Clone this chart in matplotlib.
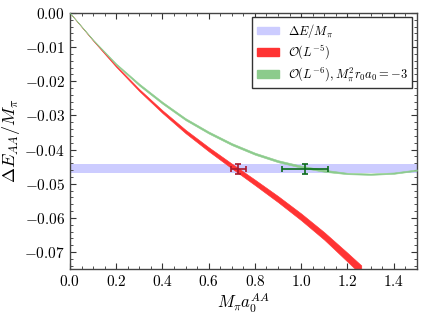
import numpy as np
import matplotlib
matplotlib.use("Agg")
import matplotlib.pyplot as plt
from matplotlib.ticker import MultipleLocator, FuncFormatter
from matplotlib.patches import Patch

plt.rcParams['mathtext.fontset'] = 'cm'
plt.rcParams['font.family'] = ['DejaVu Serif']

# Data
red_x = [0.0, 0.1, 0.2, 0.3, 0.4, 0.5, 0.6, 0.7, 0.8, 0.9, 1.0, 1.1, 1.2, 1.26]
red_y = [0.0, -0.0080, -0.0156, -0.0226, -0.0289, -0.0347, -0.0399, -0.0448,
         -0.0496, -0.0545, -0.0597, -0.0653, -0.0715, -0.0753]
red_hw = [0.0, 0.0001, 0.0002, 0.0003, 0.0004, 0.0005, 0.0006, 0.0007,
          0.0008, 0.0009, 0.0010, 0.0011, 0.0013, 0.0014]

green_x = [0.0, 0.1, 0.2, 0.3, 0.4, 0.5, 0.6, 0.7, 0.8, 0.9, 1.0, 1.1, 1.2, 1.3, 1.4, 1.5]
green_y = [0.0, -0.0079, -0.0150, -0.0210, -0.0263, -0.0311, -0.0350, -0.0384,
           -0.0412, -0.0434, -0.0450, -0.0462, -0.0470, -0.0472, -0.0469, -0.0460]
green_hw = [0.0, 0.0001, 0.0002, 0.0003, 0.0003, 0.0003, 0.0003, 0.0003,
            0.0003, 0.0003, 0.0003, 0.0003, 0.0002, 0.0002, 0.0002, 0.0002]

band_center = -0.0456
band_half = 0.0013

pt_red = dict(x=0.728, y=-0.0456, xerr=0.033, yerr=0.0014)
pt_green = dict(x=1.018, y=-0.0456, xerr=0.100, yerr=0.0015)

fig = plt.figure(figsize=(4.24, 3.17), dpi=100)
ax = fig.add_axes([0.165, 0.151, 0.818, 0.808])

ax.axhspan(band_center - band_half, band_center + band_half, color='#ccccff', lw=0, zorder=1)

rx = np.array(red_x); ry = np.array(red_y); rh = np.array(red_hw)
ax.fill_between(rx, ry - rh, ry + rh, color='#ff3333', lw=0.4, edgecolor='#ff3333', zorder=2)
gx = np.array(green_x); gy = np.array(green_y); gh = np.array(green_hw)
ax.fill_between(gx, gy - gh, gy + gh, color='#8ccb8c', lw=0.4, edgecolor='#8ccb8c', zorder=3)

ax.errorbar(pt_red['x'], pt_red['y'], xerr=pt_red['xerr'], yerr=pt_red['yerr'],
            fmt='none', ecolor='#a8182b', elinewidth=1.2, capsize=2.5, capthick=1.2, zorder=5)
ax.errorbar(pt_green['x'], pt_green['y'], xerr=pt_green['xerr'], yerr=pt_green['yerr'],
            fmt='none', ecolor='#0b6b1b', elinewidth=1.2, capsize=2.5, capthick=1.2, zorder=5)

ax.set_xlim(0, 1.5)
ax.set_ylim(-0.075, 0.0)
ax.xaxis.set_major_locator(MultipleLocator(0.2))
ax.xaxis.set_minor_locator(MultipleLocator(0.05))
ax.yaxis.set_major_locator(MultipleLocator(0.01))
ax.yaxis.set_minor_locator(MultipleLocator(0.002))
ax.xaxis.set_major_formatter(FuncFormatter(lambda v, p: r'$%.1f$' % v))
ax.yaxis.set_major_formatter(FuncFormatter(lambda v, p: r'$%.2f$' % (0.0 if abs(v) < 1e-12 else v)))
ax.tick_params(which='both', direction='in', top=True, right=True, colors='#333333',
               labelcolor='black', labelsize=11)
ax.tick_params(which='major', length=4, width=0.8)
ax.tick_params(which='minor', length=2, width=0.6)
for s in ax.spines.values():
    s.set_color('#444444')
    s.set_linewidth(1.0)

ax.set_xlabel(r'$M_\pi a_0^{AA}$', fontsize=12, labelpad=2)
ax.set_ylabel(r'$\Delta E_{AA}/M_\pi$', fontsize=13, labelpad=2)

handles = [Patch(color='#ccccff'), Patch(color='#ff3333'), Patch(color='#8ccb8c')]
labels = [r'$\Delta E/M_\pi$', r'$\mathcal{O}(L^{-5})$', r'$\mathcal{O}(L^{-6}), M_\pi^2 r_0 a_0=-3$']
leg = ax.legend(handles, labels, loc='upper right', fontsize=9, fancybox=False,
                framealpha=1, edgecolor='#333333', handlelength=1.8, handleheight=0.55,
                handletextpad=0.7, borderpad=0.35, borderaxespad=0.35, labelspacing=0.3)
leg.get_frame().set_linewidth(1.0)

fig.savefig('out.png', dpi=100)
